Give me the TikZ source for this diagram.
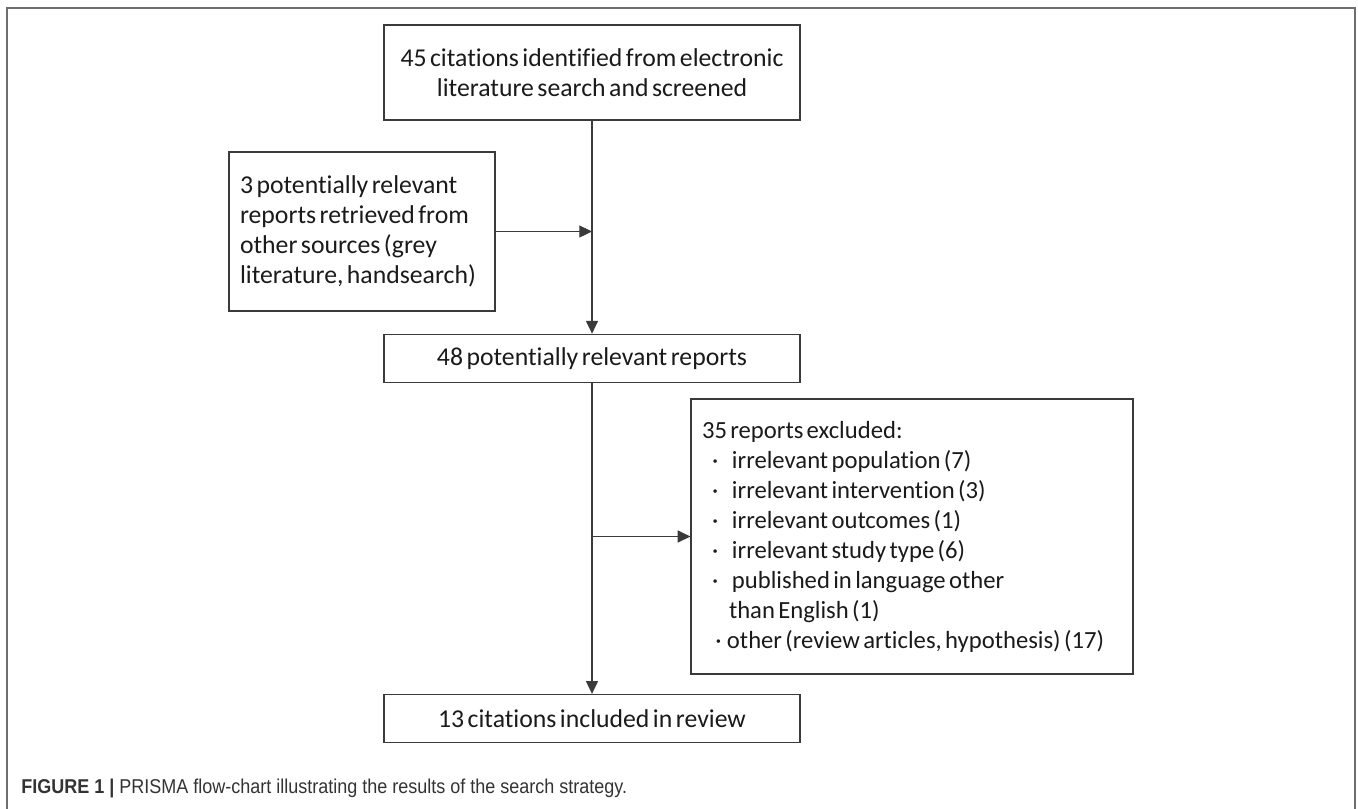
\documentclass[tikz,border=0pt]{standalone}
\usepackage{fontspec}
\setmainfont{Carlito}[WordSpace=0.6, Ligatures=NoCommon]
\newfontfamily\captionfont[FakeStretch=0.9]{Liberation Sans}
\usepackage{xcolor}
\usepackage{tikz}
\usetikzlibrary{arrows.meta, positioning, calc}
\definecolor{BoxLine}{HTML}{3A3A3A}
\definecolor{FrameGrey}{HTML}{6E6E6E}
\definecolor{TextDark}{HTML}{1A1A1A}
\newcommand{\exclitem}[1]{\hspace*{7.5pt}\makebox[15pt][l]{·}#1}

\begin{document}
\begin{tikzpicture}[x=0.75pt, y=-0.75pt, node distance=1cm, >={Triangle[length=9.5pt,width=9pt]}, every node/.style={font=\fontsize{19.3}{22.5}\selectfont, text=TextDark}]
    \tikzstyle{block} = [rectangle, draw=BoxLine, line width=0.9pt, align=center, minimum width=312pt]
    \tikzstyle{sideblock} = [rectangle, draw=BoxLine, line width=0.9pt, align=left, inner xsep=8.25pt]
    \tikzstyle{line} = [draw, ->, line width=0.8pt, BoxLine]

    \useasboundingbox (0,0) rectangle (1358,808);
    \draw [FrameGrey, line width=1.2pt] (7,812) -- (7,8) -- (1355,8) -- (1355,812);

    \node [block, minimum height=71.25pt] (ident) at (592,72.5) {45 citations identified from electronic\\literature search and screened};
    \node [block, minimum height=36pt, below=159.75pt of ident] (pot) {48 potentially relevant reports};
    \node [block, minimum height=36pt, below=233.25pt of pot] (incl) {13 citations included in review};
    \node [sideblock, text width=183pt, minimum height=119.25pt] (other) at (362,231.5) {\spaceskip=0pt\relax 3 potentially relevant\\reports retrieved from\\other sources (grey\\literature, handsearch)};
    \node [sideblock, text width=315pt, minimum height=206.25pt, font=\fontsize{18.5}{22.5}\selectfont] (excl) at (912,536.5) {\spaceskip=0pt\relax 35 reports excluded:\\
        \exclitem{irrelevant population (7)}\\
        \exclitem{irrelevant intervention (3)}\\
        \exclitem{irrelevant outcomes (1)}\\
        \exclitem{irrelevant study type (6)}\\
        \exclitem{published in language other}\\
        \hspace*{20.25pt}than English (1)\\
        \mbox{\hspace*{10pt}\makebox[8.75pt][l]{·}other (review articles, hypothesis) (17)}};

    \path [line] (ident) -- (pot);
    \path [line] (pot) -- (incl);
    \path [line] (other.east) -- (other.east -| ident.south);
    \path [line] (ident.south |- excl.west) -- (excl.west);

    \node [anchor=west, inner sep=0pt, font=\captionfont\fontsize{15}{18}\selectfont, text=black!80] (cap) at (21,788) {\textbf{FIGURE 1} \textbf{|} PRISMA flow-chart illustrating the results of the search strategy.};
\end{tikzpicture}
\end{document}
